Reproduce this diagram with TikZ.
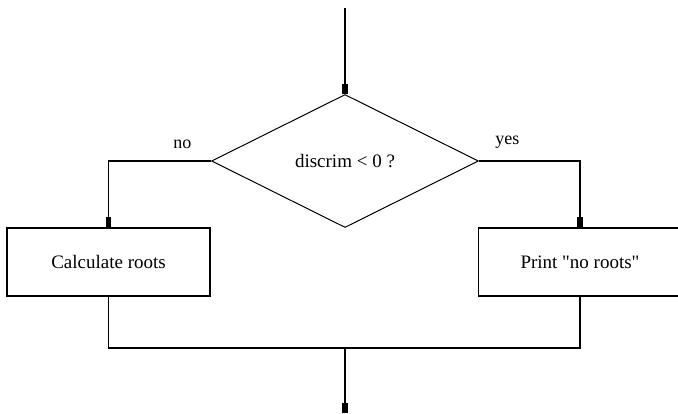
\documentclass[tikz,border=0pt]{standalone}
\usepackage{fontspec}
\setmainfont{Liberation Serif}
\usetikzlibrary{arrows.meta,shapes.geometric,positioning}

\tikzset{
  decision/.style={draw, diamond, inner sep=0pt, line width=0.5pt,
    minimum width=133.5pt, minimum height=66.5pt},
  process/.style={draw, rectangle, line width=0.6pt,
    minimum width=101.5pt, minimum height=34pt},
  flow/.style={line width=0.6pt},
  link/.style={flow, -{Rectangle[length=5pt,width=2.6pt]}},
  branch/.style={font=\fontsize{9}{10}\selectfont, pos=0.14, above=2.5pt}
}

\begin{document}
\begin{tikzpicture}[x=0.5pt, y=-0.5pt, font=\fontsize{9.5}{11}\selectfont]
  \useasboundingbox (0,0) rectangle (678,413);

  % test and the two outcomes
  \node[decision] (test) at (345,161) {discrim < 0 ?};
  \node[process] (calc) at (108.5,262) {Calculate roots};
  \node[process] (print) at (580,262) {Print \textquotedbl no roots\textquotedbl};

  \coordinate (in) at (345,8);
  \coordinate (merge) at (345,348);
  \coordinate (out) at (345,413);

  \draw[link] (in) -- (test.north);
  \draw[link] (test.west) -| node[branch] {no} (calc.north);
  \draw[link] (test.east) -| node[branch] {yes} (print.north);

  % join again below
  \draw[flow] (calc.south) |- (merge) -| (print.south);
  \draw[link] (merge) -- (out);
\end{tikzpicture}
\end{document}
